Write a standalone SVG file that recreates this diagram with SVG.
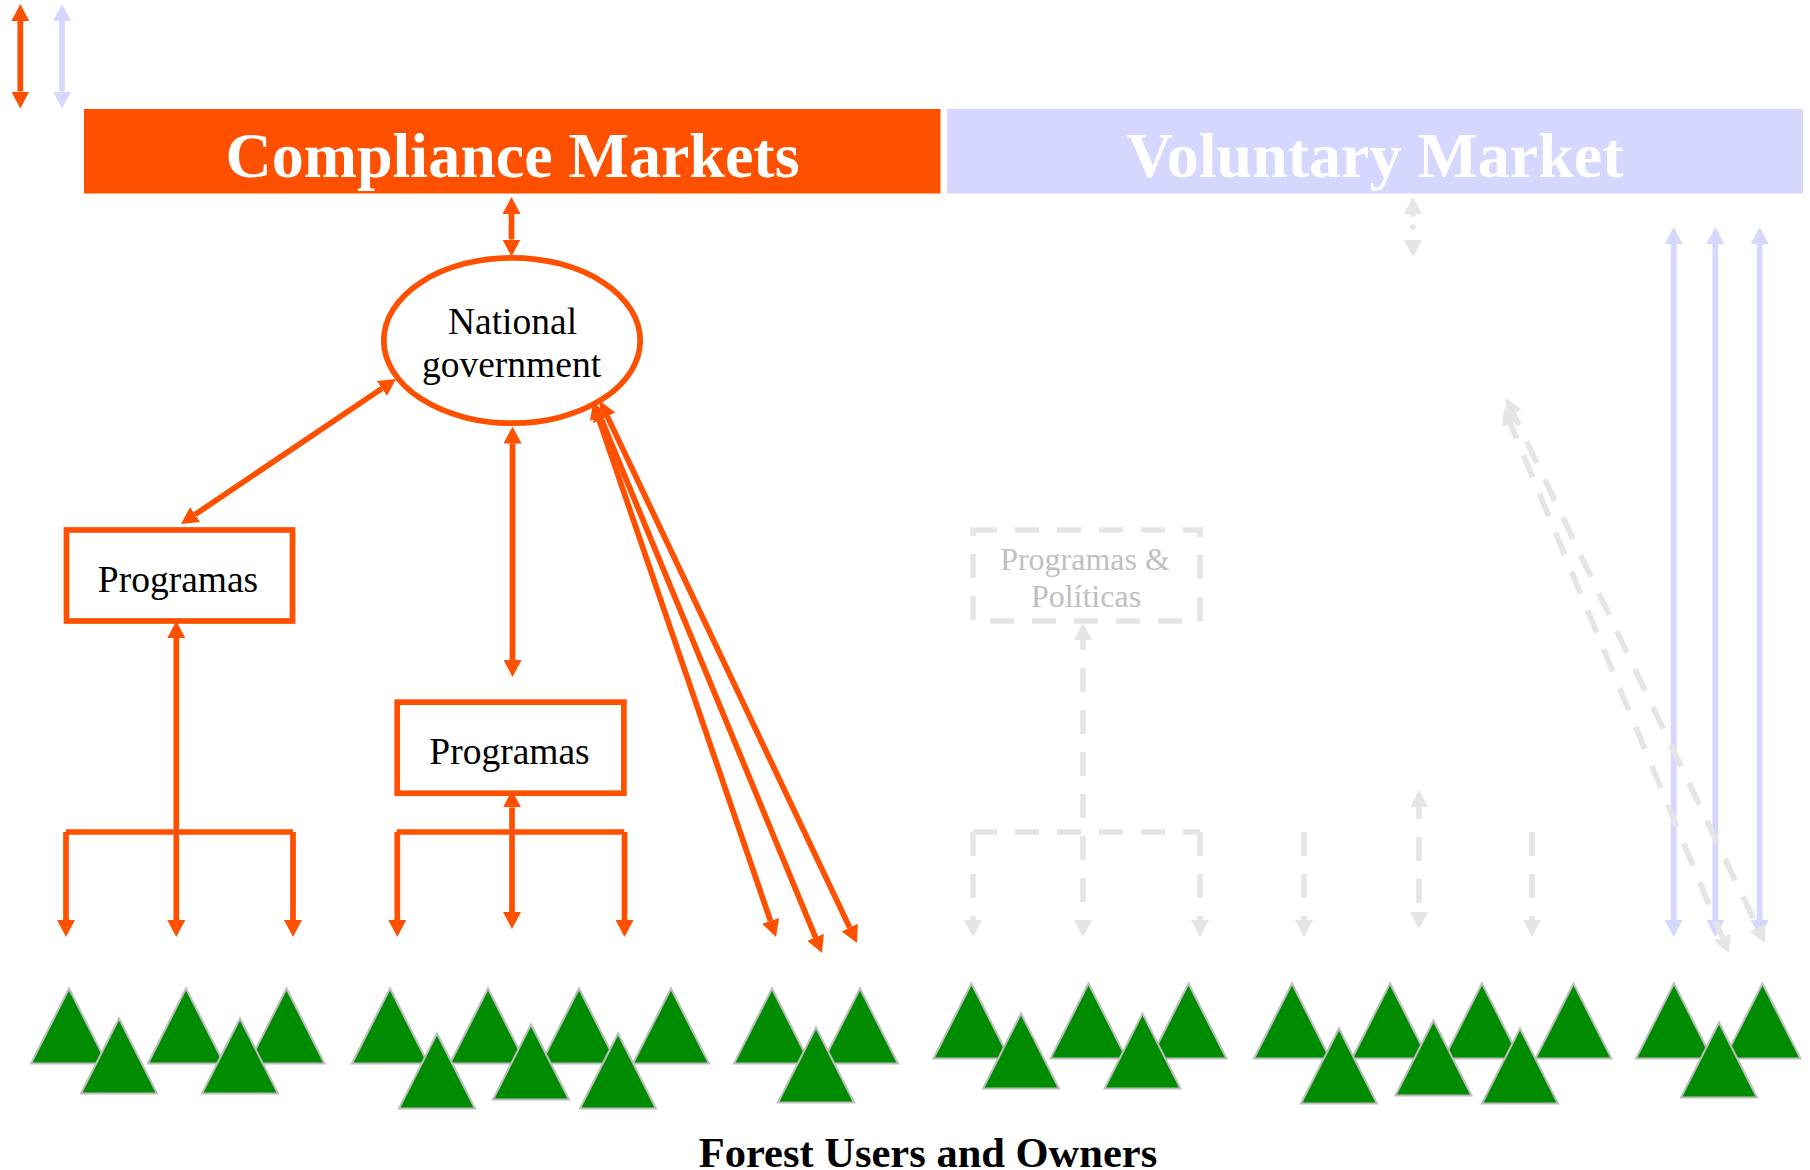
<svg xmlns="http://www.w3.org/2000/svg" width="1810" height="1170" viewBox="0 0 1810 1170">
<style>
text{font-family:"Liberation Serif","Times New Roman",serif;text-anchor:middle}
.h{font-size:64px;font-weight:bold;fill:#fff}
.l{font-size:37.500px;fill:#000}
.g{font-size:32px;fill:#c0c0c0}
.b{fill:#fff;stroke:#ff5000;stroke-width:5.700}
.d{fill:none;stroke:#e5e5e5;stroke-width:5.700;stroke-dasharray:24 18}
.c{fill:none;stroke-width:5.700}
.o{stroke:#ff5000;marker-end:url(#ho)}
.oo{stroke:#ff5000;marker-start:url(#ho);marker-end:url(#ho)}
.ln{stroke:#ff5000}
.p{stroke:#d5d7ff;marker-end:url(#hp)}
.pp{stroke:#d5d7ff;marker-start:url(#hp);marker-end:url(#hp)}
.e{stroke:#e5e5e5;stroke-dasharray:24 18;marker-end:url(#hg)}
.ee{stroke:#e5e5e5;stroke-dasharray:24 18;marker-start:url(#hg);marker-end:url(#hg)}
.t{fill:#008c00;stroke:#bdbdbd;stroke-width:2}
</style>
<defs>
<marker id="ho" markerUnits="userSpaceOnUse" markerWidth="17" markerHeight="18" refX="0" refY="9" orient="auto-start-reverse"><path d="M0 0L17 9L0 18z" fill="#ff5000"/></marker>
<marker id="hp" markerUnits="userSpaceOnUse" markerWidth="17" markerHeight="18" refX="0" refY="9" orient="auto-start-reverse"><path d="M0 0L17 9L0 18z" fill="#d5d7ff"/></marker>
<marker id="hg" markerUnits="userSpaceOnUse" markerWidth="17" markerHeight="18" refX="0" refY="9" orient="auto-start-reverse"><path d="M0 0L17 9L0 18z" fill="#e5e5e5"/></marker>
<polygon id="tree" class="t" points="0,0 38,75 -38,75"/>
</defs>
<g id="compliance-markets"><rect x="84" y="109" width="856.500" height="84.500" fill="#ff5000"/><text class="h" x="512.500" y="177">Compliance Markets</text></g>
<g id="voluntary-market"><rect x="947" y="109" width="856" height="84.500" fill="#d5d7ff"/><text class="h" x="1375" y="177">Voluntary Market</text></g>
<g id="national-government"><ellipse class="b" cx="512" cy="340.500" rx="128.200" ry="82.700"/><text class="l" x="512.500" y="333.500">National</text><text class="l" x="511.500" y="376.500">government</text></g>
<g id="programas-1"><rect class="b" x="66.500" y="530" width="226" height="91" fill="none"/><text class="l" x="178" y="591.500">Programas</text></g>
<g id="programas-2"><rect class="b" x="397.200" y="702.200" width="226.700" height="91" fill="none"/><text class="l" x="509.500" y="764">Programas</text></g>
<g id="programas-politicas"><rect class="d" x="973" y="530" width="227" height="91"/><text class="g" x="1085" y="570">Programas &amp;</text><text class="g" x="1086" y="607">Políticas</text></g>
<g id="forest-1"><use href="#tree" x="69" y="988.500"/><use href="#tree" x="186" y="988.500"/><use href="#tree" x="286.500" y="988.500"/><use href="#tree" x="119" y="1018.500"/><use href="#tree" x="240" y="1018.500"/></g>
<g id="forest-2"><use href="#tree" x="390" y="988.500"/><use href="#tree" x="488" y="988.500"/><use href="#tree" x="579" y="988.500"/><use href="#tree" x="671" y="988.500"/><use href="#tree" x="437" y="1033.500"/><use href="#tree" x="531" y="1024.500"/><use href="#tree" x="618" y="1033.500"/></g>
<g id="forest-3"><use href="#tree" x="772" y="988.500"/><use href="#tree" x="860" y="988.500"/><use href="#tree" x="816" y="1027.500"/></g>
<g id="forest-4"><use href="#tree" x="971.500" y="983.500"/><use href="#tree" x="1088.500" y="983.500"/><use href="#tree" x="1188.500" y="983.500"/><use href="#tree" x="1021" y="1013.500"/><use href="#tree" x="1142.500" y="1013.500"/></g>
<g id="forest-5"><use href="#tree" x="1292" y="983.500"/><use href="#tree" x="1390" y="983.500"/><use href="#tree" x="1482" y="983.500"/><use href="#tree" x="1573.500" y="983.500"/><use href="#tree" x="1339" y="1028.500"/><use href="#tree" x="1433.500" y="1020.500"/><use href="#tree" x="1520" y="1028.500"/></g>
<g id="forest-6"><use href="#tree" x="1674" y="983.500"/><use href="#tree" x="1762.500" y="983.500"/><use href="#tree" x="1719" y="1022.500"/></g>
<g id="forest-label"><text x="928" y="1167" font-size="42.500" font-weight="bold" fill="#000">Forest Users and Owners</text></g>
<g id="connectors">
<path class="c pp" d="M62 21V91.500"/>
<path class="c oo" d="M20.300 21V91.500"/>
<path class="c oo" d="M511.500 214V239.500"/>
<path class="c oo" d="M381.900 388.500L195.100 514.500"/>
<path class="c oo" d="M512.500 443.500V660"/>
<path class="c oo" d="M176.300 638V920"/>
<path class="c ln" d="M66 832H293"/>
<path class="c o" d="M66 832V920"/>
<path class="c o" d="M293 832V920"/>
<path class="c ln" d="M396.700 832H624.300"/>
<path class="c o" d="M397.300 832V920"/>
<path class="c o" d="M624.500 832V920"/>
<path class="c oo" d="M512 807.300V912"/>
<path class="c oo" d="M598.500 418.100L770.500 920.900"/>
<path class="c oo" d="M601.500 419.700L815.500 937.300"/>
<path class="c oo" d="M607.300 416.400L849.700 927.600"/>
<path class="c pp" d="M1673.700 244V920"/>
<path class="c pp" d="M1715.300 244V920"/>
<path class="c pp" d="M1759.700 244V920"/>
<path class="c" d="M1413 214V240" stroke="#e5e5e5" stroke-width="6" stroke-linecap="round" stroke-dasharray="0 13" marker-start="url(#hg)" marker-end="url(#hg)"/>
<path class="d" d="M973 832H1200"/>
<path class="c e" d="M973 832V920"/>
<path class="c e" d="M1200 832V920"/>
<path class="c ee" stroke-dashoffset="14" d="M1083 640V920"/>
<path class="c e" d="M1304 832V920"/>
<path class="c ee" stroke-dashoffset="12" d="M1419 807V912"/>
<path class="c e" d="M1532 832V920"/>
<path class="c ee" stroke-dashoffset="8" d="M1510.500 423.700L1722.500 937.300"/>
<path class="c ee" stroke-dashoffset="11" d="M1513.300 413.400L1757.700 927.600"/>
</g>
</svg>
